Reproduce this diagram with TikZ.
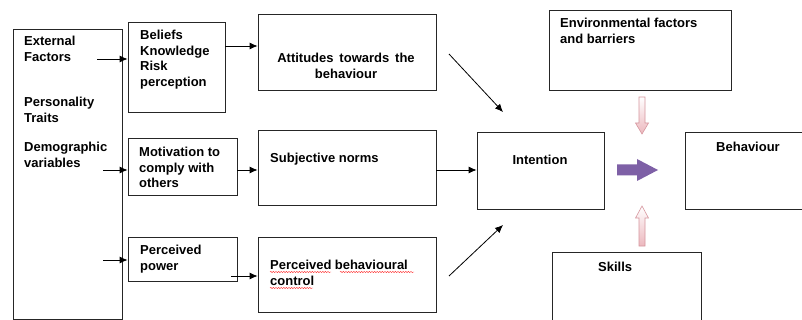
\documentclass[tikz,border=0pt]{standalone}
\usepackage{fontspec}
\setmainfont{Liberation Sans}
\usetikzlibrary{arrows.meta,decorations.pathmorphing}
\definecolor{arrowpurple}{RGB}{126,96,166}
\definecolor{arrowpink}{RGB}{214,150,158}
\definecolor{fillpink}{RGB}{236,184,190}

\begin{document}
\begin{tikzpicture}
		[x=1pt, y=-1pt,
		box/.style ={rectangle, draw=black!85, line width=0.8pt, inner sep=0pt},
		txt/.style ={anchor=north west, inner sep=0pt, align=left, font=\bfseries\fontsize{13}{15.5}\selectfont},
		ctxt/.style ={txt, anchor=north, align=center},
		line/.style ={draw, line width=0.8pt, -{Latex[length=8pt,width=7pt]}},
		blockarrow/.style ={draw=arrowpink, line width=0.6pt, top color=white, bottom color=fillpink},
		spell/.style ={draw=red!80, line width=0.4pt, decorate, decoration={snake, amplitude=0.7pt, segment length=2.6pt}},
		]

		\path[use as bounding box, fill=white] (0,0) rectangle (802,320);

		\draw (67.5,174) node[box, minimum width=109pt, minimum height=290pt] (ext) {};
		\draw (176.5,67) node[box, minimum width=97pt, minimum height=90pt] (belief) {};
		\draw (182.5,166.5) node[box, minimum width=109pt, minimum height=57pt] (motiv) {};
		\draw (182.5,259) node[box, minimum width=109pt, minimum height=44pt] (power) {};
		\draw (347,52) node[box, minimum width=178pt, minimum height=76pt] (att) {};
		\draw (347,167.5) node[box, minimum width=178pt, minimum height=75pt] (subj) {};
		\draw (347,274.5) node[box, minimum width=178pt, minimum height=75pt] (pbc) {};
		\draw (540.5,170.5) node[box, minimum width=127pt, minimum height=77pt] (intent) {};
		\draw (640,50) node[box, minimum width=182pt, minimum height=80pt] (env) {};
		\draw (748,170.5) node[box, minimum width=126pt, minimum height=77pt] (behav) {};
		\draw (626.5,291) node[box, minimum width=149pt, minimum height=78pt] (skills) {};

		\draw (24,36) node[txt] (exttxt) {External\\Factors};
		\draw (24,97) node[txt] (perstxt) {Personality\\Traits};
		\draw (24,142) node[txt] (demotxt) {Demographic\\variables};
		\draw (140,30) node[txt] (belieftxt) {Beliefs\\Knowledge\\Risk\\perception};
		\draw (139,147) node[txt] (motivtxt) {Motivation to\\comply with\\others};
		\draw (140,245) node[txt] (powertxt) {Perceived\\power};
		\draw (346,53) node[ctxt] (atttxt) {Attitudes\hspace{0.45em}towards\hspace{0.45em}the\\behaviour};
		\draw (270,153) node[txt] (subjtxt) {Subjective norms};
		\draw (270,260) node[txt] (pbctxt) {Perceived\hspace{0.25em}behavioural\\control};
		\draw (540,155) node[ctxt] (intenttxt) {Intention};
		\draw (560,18) node[txt] (envtxt) {Environmental factors\\and barriers};
		\draw (748,142) node[ctxt] (behavtxt) {Behaviour};
		\draw (598,262) node[txt] (skillstxt) {Skills};

		\coordinate (e1) at (97,59);
		\coordinate (e2) at (103,170);
		\coordinate (e3) at (103,260);
		\coordinate (b1) at (225,46);
		\coordinate (m1) at (237,170);
		\coordinate (p1) at (231,276);
		\coordinate (a1) at (449,54);
		\coordinate (a2) at (503,112);
		\coordinate (c1) at (449,276);
		\coordinate (c2) at (503,225);

		\path[line] (e1) -- (belief.west |- e1);
		\path[line] (e2) -- (motiv.west |- e2);
		\path[line] (e3) -- (power.west |- e3);
		\path[line] (b1) -- (att.west |- b1);
		\path[line] (m1) -- (subj.west |- m1);
		\path[line] (p1) -- (pbc.west |- p1);
		\path[line] (subj.east |- m1) -- (intent.west |- m1);
		\path[line] (a1) -- (a2);
		\path[line] (c1) -- (c2);

		\draw[spell] (270,272) -- (331,272);
		\draw[spell] (340,272) -- (414,272);
		\draw[spell] (270,288) -- (313,288);

		\fill[arrowpurple] (617,164.5) -- (637,164.5) -- (637,159) -- (658,170) -- (637,181) -- (637,175.5) -- (617,175.5) -- cycle;
		\path[blockarrow] (639,97) -- (645,97) -- (645,123) -- (648.5,123) -- (642,134) -- (635.5,123) -- (639,123) -- cycle;
		\path[blockarrow] (639,246) -- (645,246) -- (645,218) -- (648.5,218) -- (642,206) -- (635.5,218) -- (639,218) -- cycle;

	\end{tikzpicture}
\end{document}
